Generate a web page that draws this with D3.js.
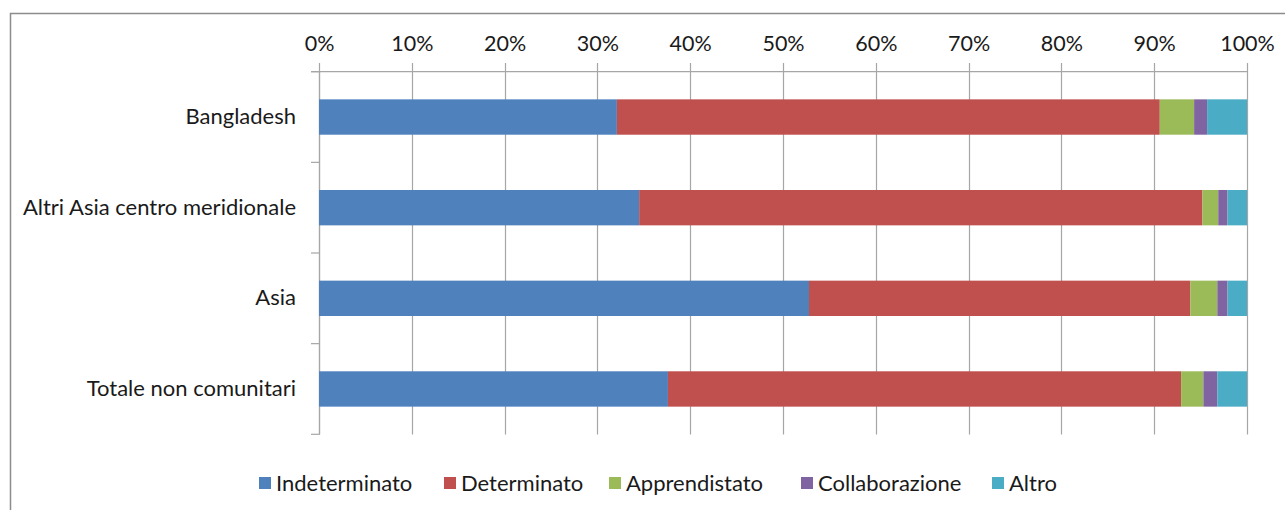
<!DOCTYPE html>
<html>
<head>
<meta charset="utf-8">
<script src="https://cdn.jsdelivr.net/npm/d3@7"></script>
<style>
  html, body { margin: 0; padding: 0; background: #fff; }
  svg { display: block; }
  text { font-family: Lato, "Open Sans", sans-serif; fill: #1a1a1a; }
</style>
</head>
<body>
<svg id="chart" width="1285" height="510"></svg>
<script>
const categories = ["Bangladesh", "Altri Asia centro meridionale", "Asia", "Totale non comunitari"];
const seriesNames = ["Indeterminato", "Determinato", "Apprendistato", "Collaborazione", "Altro"];
const indeterminato  = [32.1, 34.5, 52.8, 37.6];
const determinato    = [58.5, 60.7, 41.1, 55.3];
const apprendistato  = [3.7, 1.7, 2.9, 2.4];
const collaborazione = [1.4, 1.0, 1.1, 1.5];
const altro          = [4.3, 2.1, 2.1, 3.2];
const tickValues = [0, 10, 20, 30, 40, 50, 60, 70, 80, 90, 100];
const colors = ["#4F81BD", "#C0504D", "#9BBB59", "#8064A2", "#4BACC6"];

const seriesValues = [indeterminato, determinato, apprendistato, collaborazione, altro];
const rows = categories.map((c, i) => {
  const r = { category: c };
  seriesNames.forEach((s, j) => r[s] = seriesValues[j][i]);
  const tot = d3.sum(seriesNames, s => r[s]);
  seriesNames.forEach(s => r[s] = r[s] / tot * 100);
  return r;
});
const stacked = d3.stack().keys(seriesNames)(rows);

const svg = d3.select("#chart");
// outer frame
svg.append("rect").attr("x", 10.5).attr("y", 13.5).attr("width", 1290).attr("height", 520)
  .attr("fill", "none").attr("stroke", "#8c8c8c").attr("stroke-width", 1.5);

const x = d3.scaleLinear().domain([0, 100]).range([319, 1247]);
const y = d3.scaleBand().domain(categories).range([71.7, 434.3]).paddingInner(0.61).paddingOuter(0.305);

const g = svg.append("g");

// gridlines
g.selectAll("line.grid").data(tickValues).join("line")
  .attr("x1", d => Math.round(x(d)) + 0.5).attr("x2", d => Math.round(x(d)) + 0.5)
  .attr("y1", 63).attr("y2", 434.5)
  .attr("stroke", "#a6a6a6").attr("stroke-width", 1.2);

// top axis
const xAxis = d3.axisTop(x).tickValues(tickValues).tickFormat(d => d + "%").tickSize(0).tickPadding(0);
const ax = g.append("g").attr("transform", "translate(0,71.7)").call(xAxis);
ax.select(".domain").remove();
ax.selectAll("text").attr("y", -21).attr("dy", 0).style("font-size", "21.5px")
  .style("font-family", "Lato, sans-serif").attr("fill", "#1a1a1a");
g.append("line").attr("x1", 311).attr("x2", 1247.5).attr("y1", 71.7).attr("y2", 71.7)
  .attr("stroke", "#a6a6a6").attr("stroke-width", 1.2);

// left axis line and ticks
const bandEdges = [0, 1, 2, 3, 4].map(i => 71.7 + i * (434.3 - 71.7) / 4);
g.append("line").attr("x1", 319.5).attr("x2", 319.5).attr("y1", 71.7).attr("y2", 434.5)
  .attr("stroke", "#a6a6a6").attr("stroke-width", 1.2);
g.selectAll("line.ytick").data(bandEdges).join("line")
  .attr("x1", 311).attr("x2", 319.5).attr("y1", d => d).attr("y2", d => d)
  .attr("stroke", "#a6a6a6").attr("stroke-width", 1.2);

// bars
g.selectAll("g.series").data(stacked).join("g")
  .attr("fill", (d, i) => colors[i])
  .selectAll("rect").data(d => d).join("rect")
  .attr("x", d => x(d[0])).attr("width", d => x(d[1]) - x(d[0]))
  .attr("y", d => y(d.data.category)).attr("height", y.bandwidth());

// category labels
const yAxis = d3.axisLeft(y).tickSize(0).tickPadding(0);
const ay = g.append("g").attr("transform", "translate(296,0)").call(yAxis);
ay.select(".domain").remove();
ay.selectAll("text").style("font-size", "22px").style("font-family", "Lato, sans-serif").attr("fill", "#1a1a1a");

// legend
const legendX = [259, 444, 609, 801, 992];
const lg = svg.append("g");
seriesNames.forEach((s, i) => {
  lg.append("rect").attr("x", legendX[i]).attr("y", 477).attr("width", 12).attr("height", 12).attr("fill", colors[i]);
  lg.append("text").attr("x", legendX[i] + 17).attr("y", 483).attr("dy", "0.35em")
    .style("font-size", "22px").text(s);
});
</script>
</body>
</html>
